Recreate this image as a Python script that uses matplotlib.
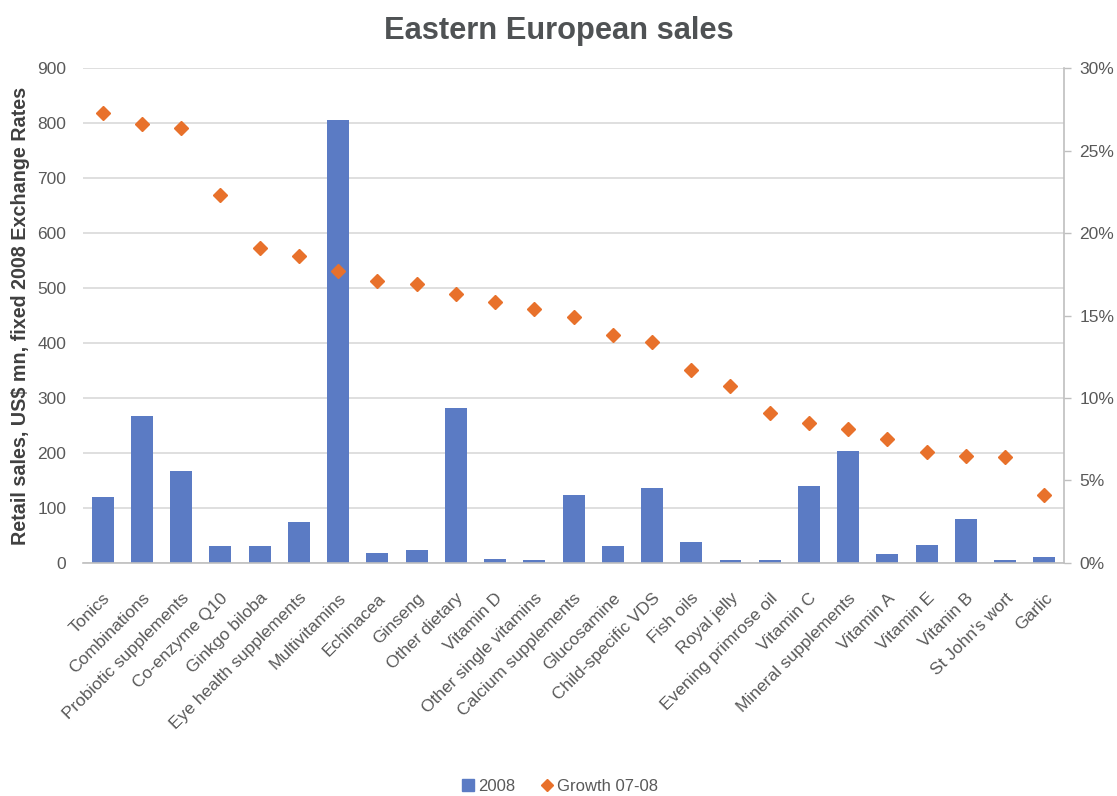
import matplotlib
matplotlib.use("Agg")
import matplotlib.pyplot as plt
from matplotlib.ticker import FuncFormatter, MultipleLocator
from matplotlib.lines import Line2D

plt.rcParams['font.family'] = ['Liberation Sans', 'DejaVu Sans']

categories = ["Tonics", "Combinations", "Probiotic supplements", "Co-enzyme Q10",
              "Ginkgo biloba", "Eye health supplements", "Multivitamins", "Echinacea",
              "Ginseng", "Other dietary", "Vitamin D", "Other single vitamins",
              "Calcium supplements", "Glucosamine", "Child-specific VDS", "Fish oils",
              "Royal jelly", "Evening primrose oil", "Vitamin C", "Mineral supplements",
              "Vitamin A", "Vitamin E", "Vitanin B", "St John's wort", "Garlic"]
sales_2008 = [120, 267, 167, 31, 31, 75, 806, 18, 24, 281, 7, 5,
              124, 30, 136, 37, 5, 4, 139, 203, 15, 33, 80, 4, 10]
growth_0708 = [27.3, 26.6, 26.4, 22.3, 19.1, 18.6, 17.7, 17.1, 16.9, 16.3, 15.8, 15.4,
               14.9, 13.8, 13.4, 11.7, 10.7, 9.1, 8.5, 8.1, 7.5, 6.7, 6.5, 6.4, 4.1]

bar_color = "#5B7BC4"
dot_color = "#E8712B"
text_gray = "#595959"
grid_gray = "#D9D9D9"

fig = plt.figure(figsize=(11.17, 7.96), dpi=100)
ax = fig.add_axes([0.0743, 0.2931, 0.8783, 0.6209])
x = list(range(len(categories)))
ax.bar(x, sales_2008, width=0.56, color=bar_color, zorder=2)
ax.set_xlim(-0.5, len(categories) - 0.5)
ax.set_ylim(0, 900)
ax.yaxis.set_major_locator(MultipleLocator(100))
ax.grid(axis='y', color=grid_gray, linewidth=1.2, zorder=0)
ax.set_axisbelow(True)
for s in ['left', 'top', 'right']:
    ax.spines[s].set_visible(False)
ax.spines['bottom'].set_color("#BFBFBF")
ax.spines['bottom'].set_linewidth(1.2)
ax.tick_params(axis='y', length=0, labelsize=12.5, labelcolor=text_gray, pad=12)
ax.tick_params(axis='x', length=0, labelsize=12.5, labelcolor=text_gray, pad=20)
ax.set_xticks(x)
ax.set_xticklabels(categories, rotation=45, ha='right', rotation_mode='anchor')
ax.set_ylabel("Retail sales, US$ mn, fixed 2008 Exchange Rates", fontsize=14.2,
              fontweight='bold', color="#404040", labelpad=5)

ax2 = ax.twinx()
ax2.plot(x, [g / 100 for g in growth_0708], linestyle='none', marker='D',
         markersize=7.5, color=dot_color, zorder=3)
ax2.set_ylim(0, 0.30)
ax2.yaxis.set_major_locator(MultipleLocator(0.05))
ax2.yaxis.set_major_formatter(FuncFormatter(lambda v, p: f"{v*100:.0f}%"))
for s in ['left', 'top', 'bottom']:
    ax2.spines[s].set_visible(False)
ax2.spines['right'].set_color("#BFBFBF")
ax2.spines['right'].set_linewidth(1.2)
ax2.tick_params(axis='y', length=5, width=1, color="#BFBFBF", labelsize=12.5,
                labelcolor=text_gray, pad=6)

fig.text(0.5, 0.961, "Eastern European sales", ha='center', va='center',
         fontsize=22.2, fontweight='bold', color="#4F5254")

handles = [Line2D([], [], linestyle='none', marker='s', markersize=8, color=bar_color),
           Line2D([], [], linestyle='none', marker='D', markersize=6.5, color=dot_color)]
fig.legend(handles, ["2008", "Growth 07-08"], loc='center', bbox_to_anchor=(0.5, 0.012),
           ncol=2, frameon=False, fontsize=12, labelcolor=text_gray,
           handletextpad=0.1, columnspacing=1.4, handlelength=1.0)

fig.savefig("out.png", dpi=100, facecolor='white')
